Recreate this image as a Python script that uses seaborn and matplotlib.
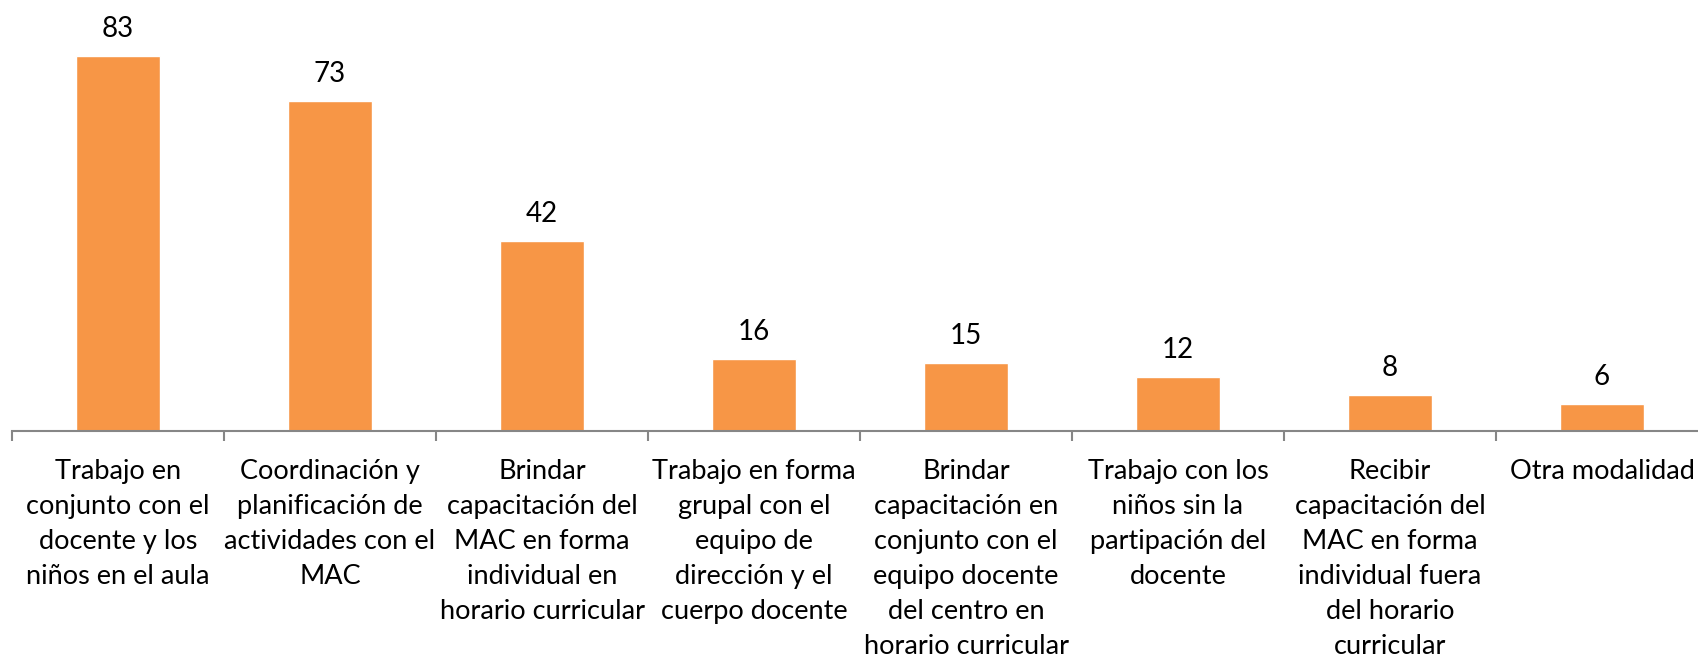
import matplotlib
matplotlib.use('Agg')
import matplotlib.pyplot as plt
import seaborn as sns
import pandas as pd
import numpy as np

# Values
categories = [
    'Trabajo en\nconjunto con el\ndocente y los\nniños en el aula',
    'Coordinación y\nplanificación de\nactividades con el\nMAC',
    'Brindar\ncapacitación del\nMAC en forma\nindividual en\nhorario curricular',
    'Trabajo en forma\ngrupal con el\nequipo de\ndirección y el\ncuerpo docente',
    'Brindar\ncapacitación en\nconjunto con el\nequipo docente\ndel centro en\nhorario curricular',
    'Trabajo con los\nniños sin la\npartipación del\ndocente',
    'Recibir\ncapacitación del\nMAC en forma\nindividual fuera\ndel horario\ncurricular',
    'Otra modalidad',
]
values = [83, 73, 42, 16, 15, 12, 8, 6]

bar_color = '#F79646'
axis_color = '#868686'

sns.set_theme(style='white')
plt.rcParams['font.family'] = ['Lato', 'DejaVu Sans']

df = pd.DataFrame({'category': categories, 'value': values})

fig = plt.figure(figsize=(16.98, 6.59), dpi=100)
ax = fig.add_axes([12 / 1698, 0.346, 1696 / 1698, 0.6176])

sns.barplot(data=df, x='category', y='value', color=bar_color, width=0.4,
            saturation=1, ax=ax)

ax.set_xlim(-0.5, len(categories) - 0.5)
ax.set_ylim(0, 90)
ax.set_xlabel('')
ax.set_ylabel('')
ax.set_yticks([])

for side in ['top', 'right', 'left']:
    ax.spines[side].set_visible(False)
ax.spines['bottom'].set_color(axis_color)
ax.spines['bottom'].set_linewidth(1.5)

# category labels centred, tick marks at category boundaries
ax.set_xticks(range(len(categories)))
ax.set_xticklabels(categories, fontsize=19.5, color='black', linespacing=1.5,
                   va='top', ha='center')
ax.tick_params(axis='x', which='major', length=0, pad=20)
ax.set_xticks(np.arange(-0.5, len(categories) + 0.5, 1), minor=True)
ax.tick_params(axis='x', which='minor', length=7, width=1.5, color=axis_color,
               direction='out', bottom=True)

for container in ax.containers:
    ax.bar_label(container, fontsize=20, padding=10, color='black')

fig.savefig('out.png', dpi=100)
